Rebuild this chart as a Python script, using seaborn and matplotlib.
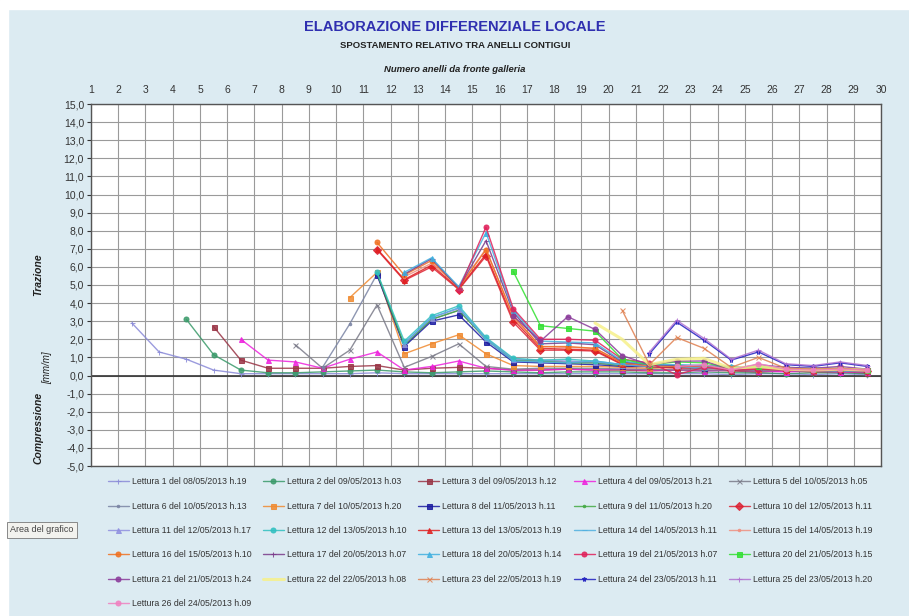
import numpy as np
import matplotlib
matplotlib.use("Agg")
import matplotlib.pyplot as plt
from matplotlib.patches import Rectangle
from matplotlib.ticker import FuncFormatter
import seaborn as sns

nan = np.nan

# ring positions (between ring numbers on the top axis)
anelli = np.arange(2.5, 30.0, 1.0)

# each reading: values from its first ring up to ring 29.5
l1 = [2.9, 1.3, 0.9, 0.3, 0.1, 0.1, 0.1, 0.1, 0.1, 0.15, 0.1, 0.1, 0.1, 0.1,
      0.1, 0.1, 0.1, 0.1, 0.1, 0.1, 0.1, 0.1, 0.05, 0.1, 0.1, 0.05, 0.1, 0.05]
l2 = [3.1, 1.15, 0.3, 0.15, 0.15, 0.2, 0.25, 0.3, 0.2, 0.15, 0.2, 0.25, 0.2,
      0.15, 0.2, 0.2, 0.2, 0.15, 0.15, 0.2, 0.15, 0.15, 0.1, 0.15, 0.15, 0.1]
l3 = [2.7, 0.85, 0.4, 0.4, 0.4, 0.5, 0.55, 0.3, 0.4, 0.45, 0.4, 0.3, 0.3,
      0.35, 0.3, 0.3, 0.25, 0.3, 0.3, 0.25, 0.2, 0.25, 0.2, 0.2, 0.15]
l4 = [2.0, 0.85, 0.75, 0.4, 0.9, 1.3, 0.3, 0.5, 0.8, 0.4, 0.3, 0.3, 0.35,
      0.3, 0.35, 0.3, 0.3, 0.25, 0.3, 0.25, 0.2, 0.25, 0.2, 0.2]
l5 = [1.7, 0.4, 1.4, 3.9, 0.45, 1.05, 1.75, 0.5, 0.35, 0.4, 0.4, 0.4, 0.35,
      0.35, 0.3, 0.3, 0.3, 0.25, 0.3, 0.2, 0.25, 0.2]
l6 = [0.45, 2.85, 5.6, 1.65, 3.1, 3.6, 2.0, 0.8, 0.8, 0.75, 0.7, 0.55, 0.5,
      0.45, 0.45, 0.35, 0.3, 0.35, 0.3, 0.3, 0.25]
l7 = [4.3, 5.7, 1.2, 1.75, 2.25, 1.2, 0.55, 0.5, 0.5, 0.5, 0.45, 0.4, 0.45,
      0.4, 0.35, 0.35, 0.3, 0.3, 0.35, 0.3]
l8 = [5.55, 1.6, 3.0, 3.35, 1.85, 0.75, 0.7, 0.65, 0.6, 0.5, 0.5, 0.45, 0.4,
      0.4, 0.4, 0.35, 0.35, 0.3, 0.3]
l9 = [5.65, 1.7, 3.1, 3.6, 2.0, 0.85, 0.8, 0.7, 0.7, 0.55, 0.6, 0.5, 0.45,
      0.4, 0.45, 0.4, 0.35, 0.35, 0.3]
l10 = [6.95, 5.25, 6.0, 4.75, 6.6, 2.95, 1.4, 1.4, 1.35, 0.6, 0.5, 0.4, 0.45,
       0.3, 0.35, 0.3, 0.3, 0.3, 0.25]
l11 = [1.75, 3.2, 3.7, 2.05, 0.9, 0.85, 0.8, 0.75, 0.6, 0.5, 0.55, 0.45, 0.4,
       0.4, 0.4, 0.35, 0.35, 0.3]
l12 = [5.7, 1.9, 3.3, 3.85, 2.1, 0.95, 0.85, 0.9, 0.8, 0.6, 0.55, 0.5, 0.4,
       0.45, 0.4, 0.4, 0.35, 0.3, 0.3]
l13 = [7.0, 5.3, 6.1, 4.8, 6.7, 3.1, 1.5, 1.45, 1.4, 0.65, 0.5, 0.45, 0.5,
       0.35, 0.4, 0.35, 0.3, 0.35, 0.3]
l14 = [1.8, 3.2, 3.75, 2.0, 0.8, 0.75, 0.7, 0.8, 0.6, 0.5, 0.5, 0.4, 0.35,
       0.35, 0.3, 0.3, 0.25, 0.25]
l15 = [5.45, 6.2, 4.9, 7.0, 3.2, 1.6, 1.55, 1.5, 0.7, 0.55, 0.5, 0.5, 0.4,
       0.4, 0.35, 0.35, 0.3, 0.3]
l16 = [7.35, 5.55, 6.35, 4.85, 6.95, 3.3, 1.6, 1.6, 1.5, 0.7, 0.55, 0.5, 0.55,
       0.4, 0.45, 0.4, 0.35, 0.35, 0.3]
l17 = [5.6, 6.45, 4.85, 7.45, 3.5, 1.75, 1.8, 1.7, 0.75, 0.6, 0.55, 0.55, 0.45,
       0.45, 0.4, 0.4, 0.35, 0.35]
l18 = [5.7, 6.5, 4.9, 7.9, 3.6, 1.9, 1.85, 1.8, 0.8, 0.6, 0.6, 0.55, 0.5,
       0.45, 0.45, 0.4, 0.4, 0.35]
l19 = [4.75, 8.2, 3.7, 2.0, 2.0, 1.95, 0.9, 0.7, 0.05, 0.45, 0.3, 0.35, 0.3,
       0.25, 0.3, 0.25]
l20 = [5.75, 2.75, 2.6, 2.45, 0.9, 0.6, 0.75, 0.7, 0.4, 0.5, 0.4, 0.35, 0.4, 0.3]
l21 = [3.3, 1.9, 3.25, 2.55, 1.1, 0.6, 0.8, 0.8, 0.35, 0.6, 0.45, 0.4, 0.5, 0.35]
l22 = [2.9, 2.0, 0.6, 0.9, 0.95, 0.4, 0.5, 0.35, 0.3, 0.35, 0.3]
l23 = [3.6, 0.6, 2.1, 1.5, 0.45, 1.0, 0.4, 0.35, 0.4, 0.3]
l24 = [1.2, 2.95, 1.95, 0.85, 1.3, 0.6, 0.5, 0.7, 0.5]
l25 = [1.3, 3.05, 2.05, 0.9, 1.4, 0.65, 0.55, 0.75, 0.55]
l26 = [0.5, 0.6, 0.3, 0.65, 0.35, 0.3, 0.35, 0.3]

letture = [l1, l2, l3, l4, l5, l6, l7, l8, l9, l10, l11, l12, l13,
           l14, l15, l16, l17, l18, l19, l20, l21, l22, l23, l24, l25, l26]

etichette = [
    "Lettura 1 del 08/05/2013 h.19", "Lettura 2 del 09/05/2013 h.03",
    "Lettura 3 del 09/05/2013 h.12", "Lettura 4 del 09/05/2013 h.21",
    "Lettura 5 del 10/05/2013 h.05", "Lettura 6 del 10/05/2013 h.13",
    "Lettura 7 del 10/05/2013 h.20", "Lettura 8 del 11/05/2013 h.11",
    "Lettura 9 del 11/05/2013 h.20", "Lettura 10 del 12/05/2013 h.11",
    "Lettura 11 del 12/05/2013 h.17", "Lettura 12 del 13/05/2013 h.10",
    "Lettura 13 del 13/05/2013 h.19", "Lettura 14 del 14/05/2013 h.11",
    "Lettura 15 del 14/05/2013 h.19", "Lettura 16 del 15/05/2013 h.10",
    "Lettura 17 del 20/05/2013 h.07", "Lettura 18 del 20/05/2013 h.14",
    "Lettura 19 del 21/05/2013 h.07", "Lettura 20 del 21/05/2013 h.15",
    "Lettura 21 del 21/05/2013 h.24", "Lettura 22 del 22/05/2013 h.08",
    "Lettura 23 del 22/05/2013 h.19", "Lettura 24 del 23/05/2013 h.11",
    "Lettura 25 del 23/05/2013 h.20", "Lettura 26 del 24/05/2013 h.09",
]

colori = ["#8a8ad8", "#3a9a6a", "#993344", "#ee22dd", "#7a7a88",
          "#7a84a4", "#f08a30", "#1a1aa0", "#44aa44", "#dd2233",
          "#9090e0", "#30c0c0", "#e02020", "#50b0e0", "#f09080",
          "#f07020", "#7a3a8a", "#40b0e0", "#e0205a", "#30e030",
          "#8a3a9a", "#f6f08a", "#e08050", "#2020c0", "#b070d0",
          "#f080c0"]
marcatori = ["+", "o", "s", "^", "x", ".", "s", "s", ".", "D",
             "^", "o", "^", "_", ".", "o", "+", "^", "o", "s",
             "o", None, "x", "*", "+", "o"]

sns.set_style("white")
plt.rcParams["font.family"] = ["Liberation Sans", "DejaVu Sans"]

sfondo = "#dcebf2"
fig = plt.figure(figsize=(9.09, 6.16), dpi=100)
fig.patch.set_facecolor(sfondo)
fig.add_artist(Rectangle((0, 1 - 9 / 616), 1, 9 / 616, transform=fig.transFigure,
                         color="white", zorder=0))
fig.add_artist(Rectangle((0, 0), 8 / 909, 1, transform=fig.transFigure,
                         color="white", zorder=0))

ax = fig.add_axes([91 / 909, 1 - 466 / 616, (881 - 91) / 909, (466 - 104) / 616])
ax.set_facecolor("white")

for vals, lab, col, mk in zip(letture, etichette, colori, marcatori):
    y = np.array([nan] * (len(anelli) - len(vals)) + vals)
    lw = 2.2 if mk is None else 1.0
    sns.lineplot(x=anelli, y=y, ax=ax, color=col, marker=mk, markersize=3.6,
                 markeredgecolor=col, linewidth=lw, label=lab, alpha=0.85,
                 estimator=None, errorbar=None)

ax.set_xlim(1, 30)
ax.set_ylim(-5, 15)
ax.set_xticks(range(1, 31))
ax.set_yticks(range(-5, 16))
ax.xaxis.tick_top()
ax.tick_params(axis="x", top=False, labeltop=True, labelbottom=False,
               labelsize=7.5, colors="#333333", pad=3)
ax.tick_params(axis="y", left=True, length=3, labelsize=7.5, colors="#333333", pad=2)
ax.yaxis.set_major_formatter(FuncFormatter(lambda v, p: f"{v:.1f}".replace(".", ",")))
ax.grid(True, color="#9a9a9a", linewidth=0.8)
ax.axhline(0, color="#333333", linewidth=1.2, zorder=1)
for s in ax.spines.values():
    s.set_color("#555555")
    s.set_linewidth(1.0)
ax.set_xlabel("")
ax.set_ylabel("")

# legend filled row by row, 5 columns
handles, labels = ax.get_legend_handles_labels()
ax.get_legend().remove()
ordine = [r * 5 + c for c in range(5) for r in range(6) if r * 5 + c < len(labels)]
leg = fig.legend([handles[i] for i in ordine], [labels[i] for i in ordine],
                 loc="upper left", ncol=5, mode="expand",
                 bbox_to_anchor=(104 / 909, 1 - 474 / 616, 772 / 909, 0),
                 frameon=False, fontsize=6.3, labelspacing=1.75,
                 handlelength=2.4, handletextpad=0.35, borderaxespad=0)
for t in leg.get_texts():
    t.set_color("#333333")

fig.text(455 / 909, 1 - 27 / 616, "ELABORAZIONE DIFFERENZIALE LOCALE", ha="center",
         va="center", fontsize=10.5, fontweight="bold", color="#2f2fb0")
fig.text(455 / 909, 1 - 46 / 616, "SPOSTAMENTO RELATIVO TRA ANELLI CONTIGUI",
         ha="center", va="center", fontsize=6.8, fontweight="bold", color="#222222")
fig.text(455 / 909, 1 - 69 / 616, "Numero anelli da fronte galleria", ha="center",
         va="center", fontsize=6.8, fontweight="bold", style="italic", color="#222222")

fig.text(38 / 909, 1 - 275 / 616, "Trazione", rotation=90, ha="center", va="center",
         fontsize=7.5, fontweight="bold", style="italic", color="#222222")
fig.text(47 / 909, 1 - 368 / 616, "[mm/m]", rotation=90, ha="center", va="center",
         fontsize=7, style="italic", color="#222222")
fig.text(38 / 909, 1 - 428 / 616, "Compressione", rotation=90, ha="center", va="center",
         fontsize=7.5, fontweight="bold", style="italic", color="#222222")

fig.text(10 / 909, 1 - 530 / 616, "Area del grafico", ha="left", va="center",
         fontsize=6.5, color="#444444",
         bbox=dict(boxstyle="square,pad=0.35", facecolor="#f2f2ee", edgecolor="#888888",
                   linewidth=0.7))

fig.savefig("out.png", dpi=100, facecolor=fig.get_facecolor())
